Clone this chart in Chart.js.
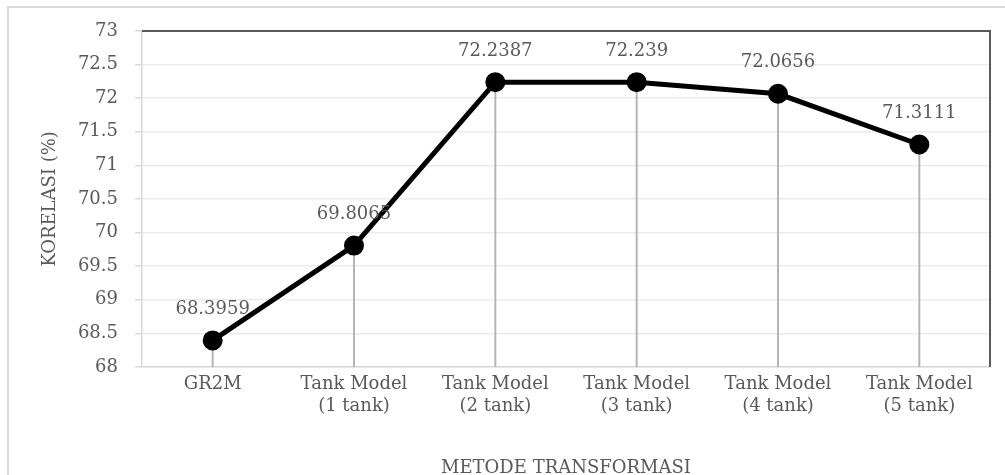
<!DOCTYPE html>
<html>
<head>
<meta charset="utf-8">
<script src="https://cdn.jsdelivr.net/npm/chart.js@4/dist/chart.umd.min.js"></script>
<style>
  body { margin: 0; background: #fff; overflow: hidden; }
</style>
</head>
<body>
<canvas id="myChartKorelasi" width="1005" height="475"></canvas>
<script>
var categories = [
    'GR2M',
    ['Tank Model', '(1 tank)'],
    ['Tank Model', '(2 tank)'],
    ['Tank Model', '(3 tank)'],
    ['Tank Model', '(4 tank)'],
    ['Tank Model', '(5 tank)']
];
var korelasi = [68.3959, 69.8065, 72.2387, 72.239, 72.0656, 71.3111];
var korelasiLabels = ['68.3959', '69.8065', '72.2387', '72.239', '72.0656', '71.3111'];
var yMin = 68;
var yMax = 73;
var yStep = 0.5;

var textColor = '#595959';
var fontFamily = '"DejaVu Serif", "Liberation Serif", serif';
var fontSize = 18;

// outer frame + dark top/right edges of the plot area
var framePlugin = {
    id: 'frame',
    beforeDraw: function (chart) {
        var c = chart.ctx;
        c.save();
        c.strokeStyle = '#d9d9d9';
        c.lineWidth = 2;
        c.strokeRect(8, 7, 1010, 500);
        c.restore();
    },
    afterDatasetsDraw: function (chart) {
        var a = chart.chartArea;
        var c = chart.ctx;
        c.save();
        c.strokeStyle = '#595959';
        c.lineWidth = 2;
        c.beginPath();
        c.moveTo(a.left, a.top);
        c.lineTo(a.right, a.top);
        c.lineTo(a.right, a.bottom);
        c.stroke();
        c.restore();
    }
};

// value labels above each point
var valueLabelPlugin = {
    id: 'valueLabels',
    afterDatasetsDraw: function (chart) {
        var meta = chart.getDatasetMeta(1);
        var c = chart.ctx;
        c.save();
        c.fillStyle = textColor;
        c.font = fontSize + 'px ' + fontFamily;
        c.textAlign = 'center';
        c.textBaseline = 'middle';
        for (var i = 0; i < meta.data.length; i++) {
            var p = meta.data[i];
            c.fillText(korelasiLabels[i], p.x, p.y - 31);
        }
        c.restore();
    }
};

var dropLines = [];
for (var i = 0; i < korelasi.length; i++) {
    dropLines.push([yMin, korelasi[i]]);
}

var ctx = document.getElementById('myChartKorelasi').getContext('2d');
var myChart = new Chart(ctx, {
    type: 'line',
    data: {
        labels: categories,
        datasets: [{
            type: 'bar',
            data: dropLines,
            backgroundColor: '#b3b3b3',
            barThickness: 1.3,
            order: 2
        }, {
            type: 'line',
            data: korelasi,
            borderColor: '#000000',
            backgroundColor: '#000000',
            borderWidth: 5,
            pointRadius: 7.5,
            pointHoverRadius: 7.5,
            pointBackgroundColor: '#000000',
            pointBorderColor: '#000000',
            tension: 0,
            fill: false,
            order: 1
        }]
    },
    options: {
        responsive: false,
        animation: false,
        devicePixelRatio: 1,
        layout: {
            padding: { left: 40, right: 15, top: 31, bottom: 0 }
        },
        plugins: {
            legend: { display: false },
            tooltip: { enabled: false }
        },
        scales: {
            x: {
                offset: true,
                grid: { display: false, drawTicks: false },
                border: { display: true, color: '#d9d9d9', width: 1.5 },
                ticks: {
                    color: textColor,
                    font: { family: fontFamily, size: fontSize },
                    padding: 7,
                    maxRotation: 0,
                    autoSkip: false
                },
                title: {
                    display: true,
                    text: 'METODE TRANSFORMASI',
                    color: textColor,
                    font: { family: fontFamily, size: fontSize },
                    padding: { top: 0, bottom: -4 }
                },
                afterFit: function (scale) { scale.height = 108; }
            },
            y: {
                min: yMin,
                max: yMax,
                grid: {
                    color: '#ebebeb',
                    lineWidth: 1.5,
                    tickLength: 7,
                    tickColor: '#d9d9d9'
                },
                border: { display: true, color: '#d9d9d9', width: 1.5 },
                ticks: {
                    stepSize: yStep,
                    color: textColor,
                    font: { family: fontFamily, size: fontSize },
                    padding: 17,
                    callback: function (value) { return String(Math.round(value * 10) / 10); }
                },
                title: {
                    display: true,
                    text: 'KORELASI (%)',
                    color: textColor,
                    font: { family: fontFamily, size: fontSize },
                    padding: { top: 0, bottom: 0 }
                },
                afterFit: function (scale) { scale.width = 102; }
            }
        }
    },
    plugins: [framePlugin, valueLabelPlugin]
});
</script>
</body>
</html>
